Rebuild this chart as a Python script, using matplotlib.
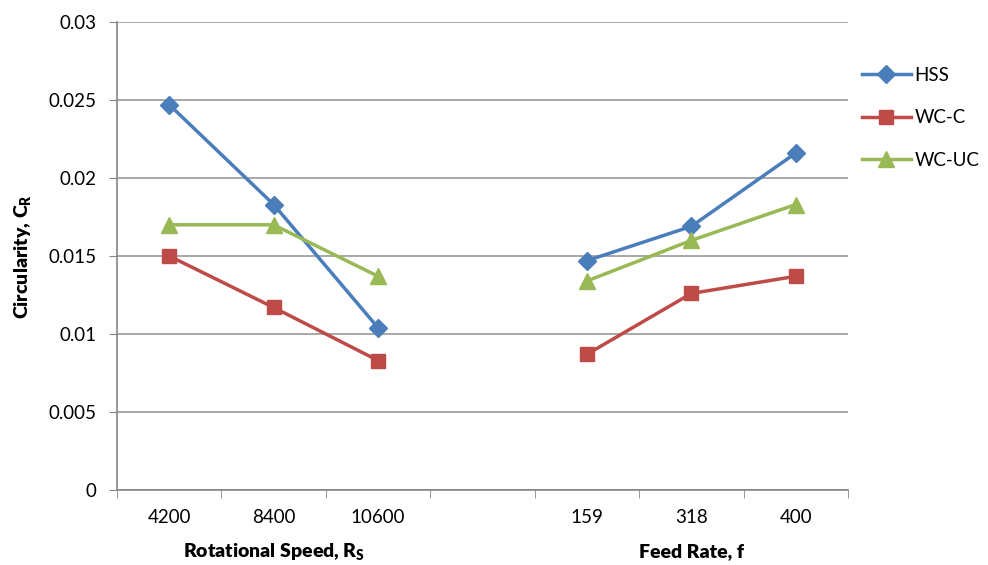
import numpy as np
import matplotlib
matplotlib.use("Agg")
import matplotlib.pyplot as plt
import matplotlib.transforms as mtransforms

plt.rcParams['font.family'] = ['Lato', 'DejaVu Sans']

categories = ['4200', '8400', '10600', '', '159', '318', '400']
hss = [0.0247, 0.0183, 0.0104, np.nan, 0.0147, 0.0169, 0.0216]
wc_c = [0.0150, 0.0117, 0.0083, np.nan, 0.0087, 0.0126, 0.0137]
wc_uc = [0.0170, 0.0170, 0.0137, np.nan, 0.0134, 0.0160, 0.0183]
y_ticks = [0, 0.005, 0.01, 0.015, 0.02, 0.025, 0.03]
y_tick_labels = ['0', '0.005', '0.01', '0.015', '0.02', '0.025', '0.03']

fig = plt.figure(figsize=(9.88, 5.65), dpi=100)
ax = fig.add_axes([117/988, 1-490/565, (848-117)/988, (490-22)/565])

x = np.arange(len(categories))
ax.plot(x, hss, color='#4A7EBB', lw=2.5, marker='D', ms=9, label='HSS', zorder=3)
ax.plot(x, wc_c, color='#BE4B48', lw=2.5, marker='s', ms=10.5, label='WC-C', zorder=3)
ax.plot(x, wc_uc, color='#98B954', lw=2.5, marker='^', ms=11.5, label='WC-UC', zorder=3)

ax.set_xlim(-0.5, len(categories)-0.5)
ax.set_ylim(0, 0.03)
ax.set_yticks(y_ticks)
ax.set_yticklabels(y_tick_labels, fontsize=13.5)
ax.set_xticks(x)
ax.set_xticklabels(categories, fontsize=13.5)
ax.tick_params(axis='x', which='major', length=0, pad=14)
ax.set_xticks(np.arange(-0.5, len(categories), 1.0), minor=True)
ax.tick_params(axis='x', which='minor', length=6, color='#868686', direction='out')
ax.tick_params(axis='y', length=6, color='#868686', direction='out', pad=9)
ax.grid(axis='y', color='#9A9A9A', lw=1.2)
ax.set_axisbelow(True)
for s in ['top', 'right']:
    ax.spines[s].set_visible(False)
for s in ['left', 'bottom']:
    ax.spines[s].set_color('#868686')
    ax.spines[s].set_linewidth(1.2)

ax.set_ylabel('Circularity, C$_\\mathregular{R}$', fontsize=14, fontweight='heavy', labelpad=10)

trans = mtransforms.blended_transform_factory(ax.transData, fig.transFigure)
ax.text(1, 1-552/565, 'Rotational Speed, R$_\\mathregular{S}$', transform=trans, ha='center', va='center',
        fontsize=14, fontweight='heavy')
ax.text(5, 1-552/565, 'Feed Rate, f', transform=trans, ha='center', va='center',
        fontsize=14, fontweight='heavy')

fig.legend(loc='upper left', bbox_to_anchor=(845/988, 1-50/565), frameon=False, fontsize=13.5,
           handlelength=2.6, labelspacing=1.35, handletextpad=0.2)

fig.savefig('out.png', dpi=100)
